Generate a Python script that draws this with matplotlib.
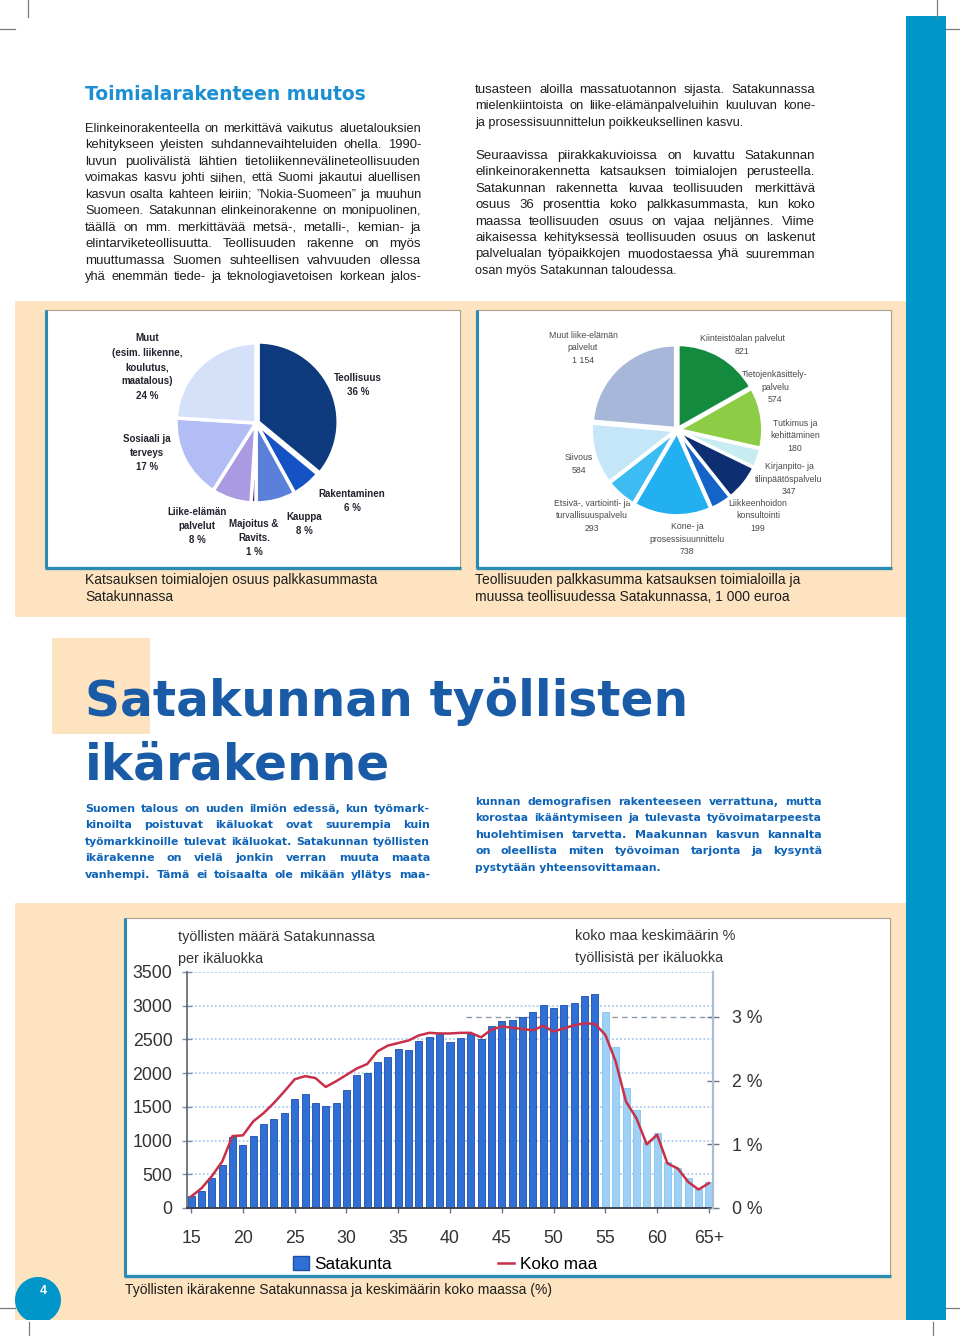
import logging
import matplotlib
matplotlib.use("Agg")
import matplotlib.pyplot as plt
from matplotlib.patches import Rectangle, Circle
from matplotlib.lines import Line2D

logging.getLogger("matplotlib.font_manager").setLevel(logging.ERROR)
plt.rcParams['font.family'] = ['Liberation Sans', 'DejaVu Sans']
NARROW = ['Liberation Sans Narrow', 'Liberation Sans', 'DejaVu Sans']

# ---------------- data ----------------
pie1_names = ["Teollisuus", "Rakentaminen", "Kauppa", "Majoitus &\nRavits.",
              "Liike-elämän\npalvelut", "Sosiaali ja\nterveys",
              "Muut\n(esim. liikenne,\nkoulutus,\nmaatalous)"]
pie1_values = [36, 6, 8, 1, 8, 17, 24]
pie1_colors = ['#0d3b7e', '#1552c4', '#5b80d9', '#4b2079', '#a99ae2', '#b3bdf5', '#d5e0f9']

pie2_names = ["Kiinteistöalan palvelut", "Tietojenkäsittely-\npalvelu", "Tutkimus ja\nkehittäminen",
              "Kirjanpito- ja\ntilinpäätöspalvelu", "Liikkeenhoidon\nkonsultointi",
              "Kone- ja\nprosessisuunnittelu", "Etsivä-, vartiointi- ja\nturvallisuuspalvelu",
              "Siivous", "Muut liike-elämän\npalvelut"]
pie2_values = [821, 574, 180, 347, 199, 738, 293, 584, 1154]
pie2_colors = ['#138a3d', '#8dcc45', '#c8ecf2', '#0d2f72', '#1563c9', '#22b0f0', '#3cbcf2', '#c4e6f8', '#a7b7d9']

ages = list(range(15, 66))
age_ticks = [15, 20, 25, 30, 35, 40, 45, 50, 55, 60, 65]
age_tick_labels = ["15", "20", "25", "30", "35", "40", "45", "50", "55", "60", "65+"]
satakunta = [173, 257, 446, 634, 1050, 930, 1070, 1247, 1327, 1416,
             1619, 1693, 1559, 1510, 1559, 1743, 1970, 2005, 2170, 2233,
             2363, 2340, 2483, 2540, 2574, 2462, 2522, 2579, 2510, 2703,
             2772, 2795, 2837, 2906, 3005, 2965, 3015, 3040, 3144, 3173,
             2906, 2381, 1787, 1455, 975, 1109, 675, 600, 452, 280, 391]
koko_maa = [0.18, 0.31, 0.50, 0.73, 1.13, 1.14, 1.36, 1.49, 1.65, 1.83,
            2.02, 2.07, 2.04, 1.90, 1.99, 2.09, 2.19, 2.26, 2.46, 2.55,
            2.59, 2.63, 2.71, 2.75, 2.74, 2.74, 2.75, 2.75, 2.68, 2.80,
            2.85, 2.83, 2.81, 2.79, 2.86, 2.77, 2.82, 2.87, 2.90, 2.89,
            2.72, 2.30, 1.67, 1.41, 1.00, 1.15, 0.70, 0.62, 0.41, 0.29, 0.39]
left_ticks = [0, 500, 1000, 1500, 2000, 2500, 3000, 3500]
right_ticks = [0, 1, 2, 3]
right_tick_labels = ["0 %", "1 %", "2 %", "3 %"]
light_from_age = 55

col1_lines = [
    "Elinkeinorakenteella on merkittävä vaikutus aluetalouksien",
    "kehitykseen yleisten suhdannevaihteluiden ohella. 1990-",
    "luvun puolivälistä lähtien tietoliikennevälineteollisuuden",
    "voimakas kasvu johti siihen, että Suomi jakautui aluellisen",
    "kasvun osalta kahteen leiriin; ”Nokia-Suomeen” ja muuhun",
    "Suomeen. Satakunnan elinkeinorakenne on monipuolinen,",
    "täällä on mm. merkittävää metsä-, metalli-, kemian- ja",
    "elintarviketeollisuutta. Teollisuuden rakenne on myös",
    "muuttumassa Suomen suhteellisen vahvuuden ollessa",
    "yhä enemmän tiede- ja teknologiavetoisen korkean jalos-",
]
col2_lines = [
    "tusasteen aloilla massatuotannon sijasta. Satakunnassa",
    "mielenkiintoista on liike-elämänpalveluihin kuuluvan kone-",
    "ja prosessisuunnittelun poikkeuksellinen kasvu.",
    None,
    "Seuraavissa piirakkakuvioissa on kuvattu Satakunnan",
    "elinkeinorakennetta katsauksen toimialojen perusteella.",
    "Satakunnan rakennetta kuvaa teollisuuden merkittävä",
    "osuus 36 prosenttia koko palkkasummasta, kun koko",
    "maassa teollisuuden osuus on vajaa neljännes. Viime",
    "aikaisessa kehityksessä teollisuuden osuus on laskenut",
    "palvelualan työpaikkojen muodostaessa yhä suuremman",
    "osan myös Satakunnan taloudessa.",
]
intro1_lines = [
    "Suomen talous on uuden ilmiön edessä, kun työmark-",
    "kinoilta poistuvat ikäluokat ovat suurempia kuin",
    "työmarkkinoille tulevat ikäluokat. Satakunnan työllisten",
    "ikärakenne on vielä jonkin verran muuta maata",
    "vanhempi. Tämä ei toisaalta ole mikään yllätys maa-",
]
intro2_lines = [
    "kunnan demografisen rakenteeseen verrattuna, mutta",
    "korostaa ikääntymiseen ja tulevasta työvoimatarpeesta",
    "huolehtimisen tarvetta. Maakunnan kasvun kannalta",
    "on oleellista miten työvoiman tarjonta ja kysyntä",
    "pystytään yhteensovittamaan.",
]
title1 = "Toimialarakenteen muutos"
title2 = ["Satakunnan työllisten", "ikärakenne"]
caption1 = ["Katsauksen toimialojen osuus palkkasummasta", "Satakunnassa"]
caption2 = ["Teollisuuden palkkasumma katsauksen toimialoilla ja",
            "muussa teollisuudessa Satakunnassa, 1 000 euroa"]
caption3 = "Työllisten ikärakenne Satakunnassa ja keskimäärin koko maassa (%)"
left_axis_title = ["työllisten määrä Satakunnassa", "per ikäluokka"]
right_axis_title = ["koko maa keskimäärin %", "työllisistä per ikäluokka"]
legend_labels = ["Satakunta", "Koko maa"]
page_number = "4"

# ---------------- colours ----------------
PEACH = '#fde3bf'
SIDEBLUE = '#0096c9'
FRAME_BLUE = '#2a8cb4'
BAR_DARK = '#2f6fd6'
BAR_DARK_EDGE = '#1d4eaa'
BAR_LIGHT = '#9ed1f5'
BAR_LIGHT_EDGE = '#84c3ef'
RED = '#c8304a'
TXT = '#1e1e1e'

# ---------------- figure ----------------
W, H = 960, 1336
fig = plt.figure(figsize=(W / 100, H / 100), dpi=100)
bg = fig.add_axes([0, 0, 1, 1])
bg.set_xlim(0, W)
bg.set_ylim(H, 0)
bg.set_autoscale_on(False)
bg.axis('off')
renderer = fig.canvas.get_renderer()


def rect(x0, y0, x1, y1):
    return [x0 / W, 1 - y1 / H, (x1 - x0) / W, (y1 - y0) / H]


def box(x0, y0, x1, y1, **kw):
    p = Rectangle((x0, y0), x1 - x0, y1 - y0, **kw)
    bg.add_patch(p)
    return p


def seg(xs, ys, **kw):
    bg.add_line(Line2D(xs, ys, **kw))


def tw(s, size, **kw):
    t = bg.text(0, 0, s, fontsize=size, **kw)
    w = t.get_window_extent(renderer).width
    t.remove()
    return w


def justified_flags(lines, justify_last):
    n = len(lines)
    flags = []
    for i, line in enumerate(lines):
        if line is None:
            flags.append(False)
            continue
        last_of_par = (i == n - 1 and not justify_last) or (i < n - 1 and lines[i + 1] is None)
        flags.append(not last_of_par)
    return flags


def base_size(blocks, size, fill=0.99, **kw):
    worst = 0
    for lines, target, jl in blocks:
        for l, f in zip(lines, justified_flags(lines, jl)):
            if l and f:
                worst = max(worst, tw(l, size, **kw) / target)
    return size * fill / worst


def draw_block(lines, x0, x1, y0, dy, size, justify_last=True, hi=1.035, **kw):
    target = x1 - x0
    for i, (line, just) in enumerate(zip(lines, justified_flags(lines, justify_last))):
        if line is None:
            continue
        y = y0 + i * dy
        words = line.split(' ')
        if not just or len(words) == 1:
            bg.text(x0, y, line, fontsize=size, va='baseline', ha='left', **kw)
            continue
        nat = tw(line, size, **kw)
        s = size * min(max(0.97 * target / nat, 1.0), hi)
        widths = [tw(w, s, **kw) for w in words]
        gap = (target - sum(widths)) / (len(words) - 1)
        x = x0
        for w, wd in zip(words, widths):
            bg.text(x, y, w, fontsize=s, va='baseline', ha='left', **kw)
            x += wd + gap


# backgrounds
box(15, 301, 906, 617, fc=PEACH, ec='none')
box(15, 903, 906, 1320, fc=PEACH, ec='none')
box(52, 638, 150, 734, fc=PEACH, ec='none')
box(906, 16, 946, 1320, fc=SIDEBLUE, ec='none')

# crop marks
cm = dict(color='#7a7a7a', lw=0.9)
seg([28, 28], [0, 17], **cm)
seg([0, 15], [29, 29], **cm)
seg([937, 937], [0, 18], **cm)
seg([946, 960], [29, 29], **cm)
seg([0, 15], [1308, 1308], **cm)
seg([29, 29], [1322, 1336], **cm)
seg([946, 960], [1308, 1308], **cm)
seg([933, 933], [1322, 1336], **cm)


def frame(x0, y0, x1, y1):
    box(x0, y0, x1, y1, fc='white', ec='#a89f8c', lw=0.8)
    seg([x0 + 1, x0 + 1], [y0, y1], color=FRAME_BLUE, lw=2.2, solid_capstyle='butt')
    seg([x0, x1 + 1], [y1 - 0.5, y1 - 0.5], color=FRAME_BLUE, lw=2.4, solid_capstyle='butt')


frame(45, 310, 460, 568)
frame(476, 310, 891, 568)
frame(124, 918, 890, 1276)

# page number circle (clipped to the peach box)
clip = Rectangle((15, 903), 891, 417, transform=bg.transData)
circ = Circle((38, 1300), 23, fc=SIDEBLUE, ec='none', zorder=3)
bg.add_patch(circ)
circ.set_clip_path(clip)
bg.text(43, 1291, page_number, color='white', fontsize=9, fontweight='bold',
        ha='center', va='center', zorder=4)

# ---------------- texts ----------------
bg.text(85, 100, title1, fontsize=13.5, fontweight='bold', color='#1b8fd2',
        family=['DejaVu Sans'], va='baseline')

body_kw = dict(color=TXT)
bsize = base_size([(col1_lines, 336, True), (col2_lines, 340, False)], 9, **body_kw)
draw_block(col1_lines, 85, 421, 132, 16.45, bsize, **body_kw)
draw_block(col2_lines, 475, 815, 93, 16.45, bsize, justify_last=False, **body_kw)

bg.text(85, 716, title2[0], fontsize=35, fontweight='bold', color='#195ba6',
        family=['DejaVu Sans'], va='baseline')
bg.text(85, 780, title2[1], fontsize=35, fontweight='bold', color='#195ba6',
        family=['DejaVu Sans'], va='baseline')

intro_kw = dict(color='#0f64b8', fontweight='bold', family=['DejaVu Sans'])
isize = base_size([(intro1_lines, 345, True), (intro2_lines, 347, False)], 8, **intro_kw)
draw_block(intro1_lines, 85, 430, 812, 16.4, isize, **intro_kw)
draw_block(intro2_lines, 475, 822, 805, 16.4, isize, justify_last=False, **intro_kw)

csize = 9.5 * 293 / tw(caption1[0], 9.5, color=TXT)
for i, l in enumerate(caption1):
    bg.text(85, 584 + i * 17, l, fontsize=csize, color=TXT, va='baseline')
for i, l in enumerate(caption2):
    bg.text(475, 584 + i * 17, l, fontsize=csize, color=TXT, va='baseline')
bg.text(125, 1294, caption3, fontsize=csize, color=TXT, va='baseline')

# ---------------- pies ----------------
PAD = 1.35


def pie_axes(cx, cy, r):
    return fig.add_axes(rect(cx - PAD * r, cy - PAD * r, cx + PAD * r, cy + PAD * r))


ax1 = pie_axes(256, 423, 80)
ax1.pie(pie1_values, colors=pie1_colors, startangle=90, counterclock=False,
        explode=[0.03, 0, 0, 0, 0, 0, 0],
        wedgeprops=dict(edgecolor='white', linewidth=2.5))
ax1.set_xlim(-PAD, PAD)
ax1.set_ylim(-PAD, PAD)
ax1.set_aspect('equal')

pie1_label_pos = [(358, 385), (352, 501), (304, 524), (254, 538), (197, 526), (147, 453), (147, 367)]
for name, v, (x, y) in zip(pie1_names, pie1_values, pie1_label_pos):
    bg.text(x, y, f"{name}\n{v} %", ha='center', va='center', multialignment='center',
            fontsize=7.0, fontweight='bold', color='#22232e', family=NARROW, linespacing=1.55)

ax2 = pie_axes(677, 430, 83)
ax2.pie(pie2_values, colors=pie2_colors, startangle=90, counterclock=False,
        explode=[0.03] * len(pie2_values),
        wedgeprops=dict(edgecolor='white', linewidth=2.0))
ax2.set_xlim(-PAD, PAD)
ax2.set_ylim(-PAD, PAD)
ax2.set_aspect('equal')

pie2_label_pos = [(742, 345), (775, 387), (795, 436), (789, 479), (758, 516), (687, 539),
                  (592, 516), (579, 464), (583, 348)]
for name, v, (x, y) in zip(pie2_names, pie2_values, pie2_label_pos):
    val = f"{v:,}".replace(',', ' ')
    bg.text(x, y, f"{name}\n{val}", ha='center', va='center', multialignment='center',
            fontsize=6.3, color='#4a4a4a', family=NARROW, linespacing=1.55)

# ---------------- bar chart ----------------
PCT_TOP = 3.705
axb = fig.add_axes(rect(187, 972, 713, 1208))
axb.set_facecolor('none')
colors = [BAR_LIGHT if a >= light_from_age else BAR_DARK for a in ages]
edges = [BAR_LIGHT_EDGE if a >= light_from_age else BAR_DARK_EDGE for a in ages]
bars = axb.bar(ages, satakunta, width=0.68, color=colors, edgecolor=edges, linewidth=0.6, zorder=2)
axb.set_xlim(14.6, 65.4)
axb.set_ylim(0, 3500)
axb.set_axisbelow(True)
axb.yaxis.grid(True, linestyle=(0, (1, 1.2)), color='#a9cdee', linewidth=1.3)
axb.axhline(3 * 3500 / PCT_TOP, xmin=0.53, xmax=1, color='#8c99a8', lw=1.0,
            linestyle=(0, (4, 3)), zorder=1)
TICKFS = 12.8
axb.set_yticks(left_ticks)
axb.set_yticklabels([str(t) for t in left_ticks], family=NARROW, fontsize=TICKFS, color='#333333')
axb.set_xticks(age_ticks)
axb.set_xticklabels(age_tick_labels, family=NARROW, fontsize=TICKFS, color='#333333')
axb.tick_params(axis='y', direction='inout', length=7, width=1, color='#8090a4', pad=7)
axb.tick_params(axis='x', direction='inout', length=7, width=1, color='#6a7480', pad=12)
axb.spines['top'].set_visible(False)
axb.spines['left'].set_color('#5a6470')
axb.spines['left'].set_linewidth(1.2)
axb.spines['bottom'].set_color('#3c4450')
axb.spines['bottom'].set_linewidth(1.4)
axb.spines['right'].set_visible(False)

axr = axb.twinx()
axr.set_ylim(0, PCT_TOP)
line, = axr.plot(ages, koko_maa, color=RED, lw=1.8, zorder=3)
axr.set_yticks(right_ticks)
axr.set_yticklabels(right_tick_labels, family=NARROW, fontsize=TICKFS, color='#333333')
axr.tick_params(axis='y', direction='inout', length=9, width=1, color='#6a7480', pad=9)
axr.spines['top'].set_visible(False)
axr.spines['left'].set_visible(False)
axr.spines['bottom'].set_visible(False)
axr.spines['right'].set_color('#a9bfd0')
axr.spines['right'].set_linewidth(1.6)

for i, l in enumerate(left_axis_title):
    bg.text(178, 937 + i * 22, l, fontsize=10.4, family=NARROW, color='#333333', va='center')
for i, l in enumerate(right_axis_title):
    bg.text(575, 936 + i * 22, l, fontsize=10.4, family=NARROW, color='#333333', va='center')

fig.legend([Rectangle((0, 0), 1, 1, fc=BAR_DARK, ec=BAR_DARK_EDGE), Line2D([], [], color=RED, lw=1.8)],
           legend_labels, loc='center', bbox_to_anchor=(445 / W, 1 - 1264 / H), ncol=2,
           frameon=False, prop=dict(family=NARROW, size=12.3), handlelength=0.9,
           handleheight=0.85, handletextpad=0.35, columnspacing=6.2)

fig.savefig("out.png", dpi=100)
